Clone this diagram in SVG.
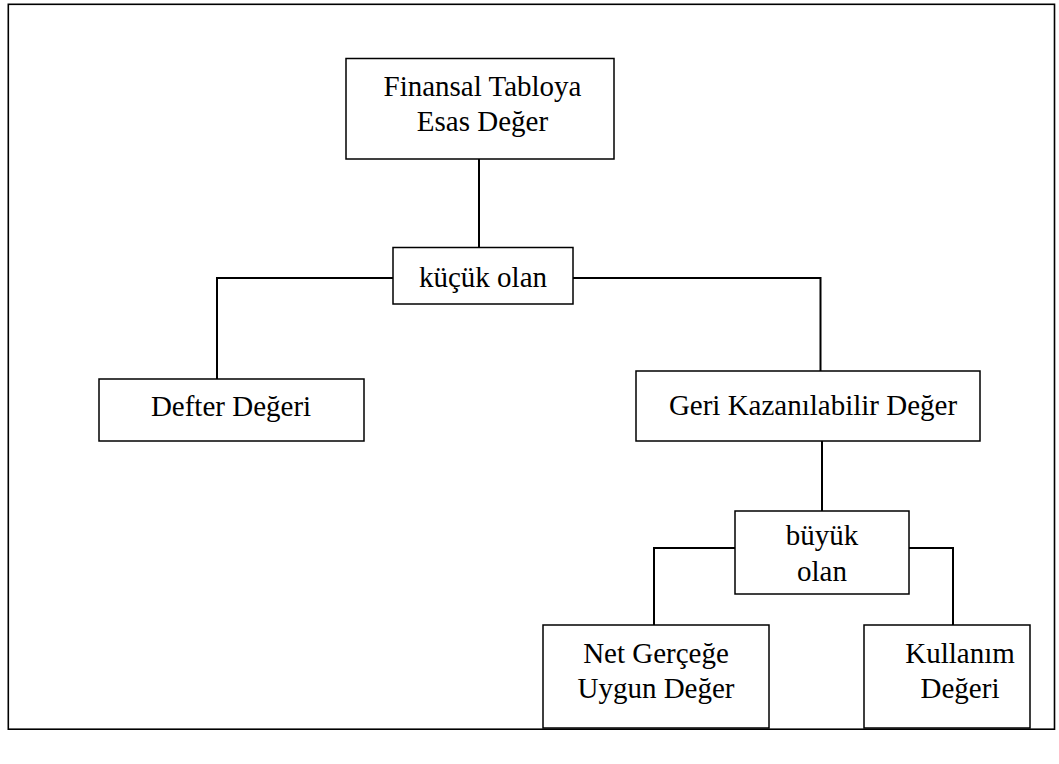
<svg xmlns="http://www.w3.org/2000/svg" width="1059" height="764" viewBox="0 0 1059 764">
<style>
.box{fill:#fff;stroke:#000;stroke-width:1.5}
.frame{fill:none;stroke:#000;stroke-width:1.6}
.con{fill:none;stroke:#000;stroke-width:2}
text{font-family:"Liberation Serif","Times New Roman",serif;font-size:29px;fill:#000;text-anchor:middle}
</style>
<rect width="1059" height="764" fill="#fff"/>
<rect class="frame" x="8.3" y="4.3" width="1046.2" height="724.9"/>
<g id="connectors">
<polyline class="con" points="479,159 479,248"/>
<polyline class="con" points="393,278 217,278 217,379"/>
<polyline class="con" points="573,278 820.5,278 820.5,371"/>
<polyline class="con" points="822,441 822,511"/>
<polyline class="con" points="735,548 654,548 654,625"/>
<polyline class="con" points="909,548 953,548 953,625"/>
</g>
<g id="n-finansal">
<rect class="box" x="346" y="58.5" width="268" height="100.5"/>
<text x="482.5" y="95.5">Finansal Tabloya</text>
<text x="482.5" y="130.5">Esas Değer</text>
</g>
<g id="n-kucuk">
<rect class="box" x="393" y="247.5" width="180" height="56.5"/>
<text x="483" y="286.5">küçük olan</text>
</g>
<g id="n-defter">
<rect class="box" x="99" y="379" width="265" height="62"/>
<text x="231" y="416">Defter Değeri</text>
</g>
<g id="n-geri">
<rect class="box" x="636" y="371" width="344" height="70"/>
<text x="813" y="415">Geri Kazanılabilir Değer</text>
</g>
<g id="n-buyuk">
<rect class="box" x="735" y="511" width="174" height="83"/>
<text x="822" y="545">büyük</text>
<text x="822" y="580.5">olan</text>
</g>
<g id="n-net">
<rect class="box" x="543" y="625" width="226" height="103"/>
<text x="656" y="663">Net Gerçeğe</text>
<text x="656" y="697.5">Uygun Değer</text>
</g>
<g id="n-kullanim">
<rect class="box" x="864" y="625" width="166" height="103"/>
<text x="960" y="663">Kullanım</text>
<text x="960" y="697.5">Değeri</text>
</g>
</svg>
